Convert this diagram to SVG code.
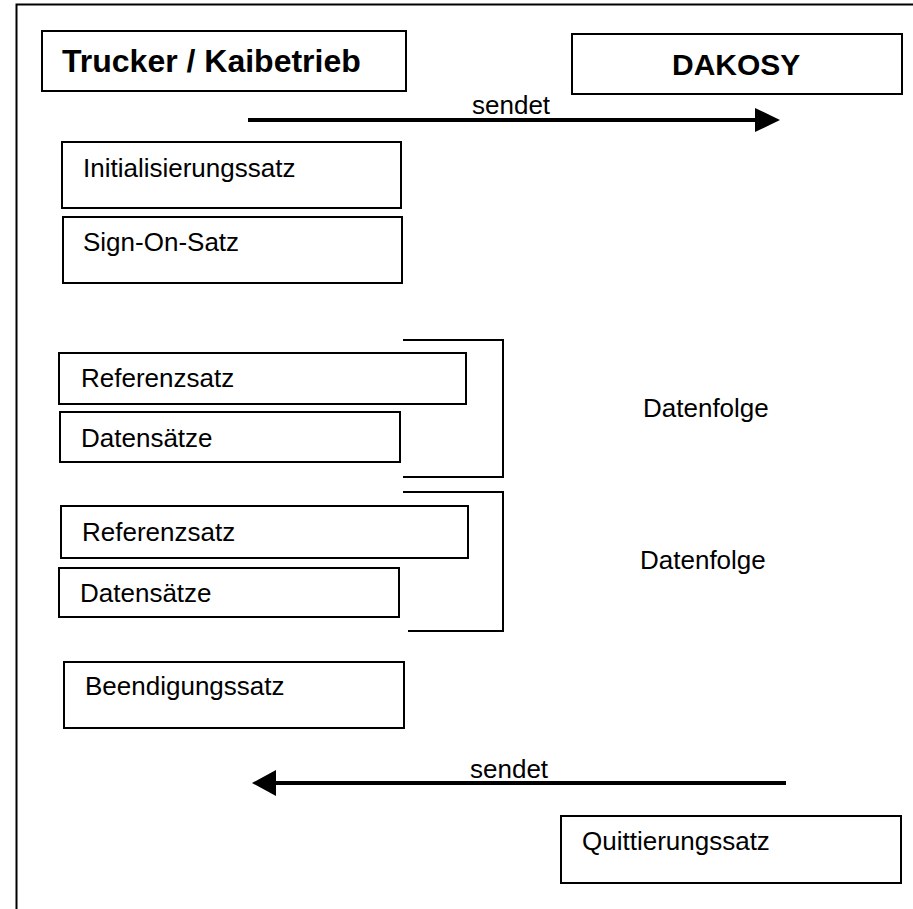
<svg xmlns="http://www.w3.org/2000/svg" width="913" height="909" viewBox="0 0 913 909">
<style>
.box{fill:#fff;stroke:#000;stroke-width:2}
.t{font-family:"Liberation Sans",Arial,sans-serif;font-size:26px;fill:#000}
.b{font-family:"Liberation Sans",Arial,sans-serif;font-weight:bold;fill:#000}
.br{fill:none;stroke:#000;stroke-width:2}
.arr{stroke:#000;stroke-width:4;fill:none}
</style>
<rect width="913" height="909" fill="#fff"/>
<g id="frame"><path d="M16.5,909 V4.5 H913" fill="none" stroke="#000" stroke-width="2"/></g>
<g id="trucker"><rect class="box" x="42" y="31" width="364" height="60"/><text class="b" x="62" y="72" font-size="32">Trucker / Kaibetrieb</text></g>
<g id="dakosy"><rect class="box" x="572" y="34" width="330" height="60"/><text class="b" x="672" y="75" font-size="30">DAKOSY</text></g>
<g id="init"><rect class="box" x="62" y="142" width="339" height="66"/><text class="t" x="83" y="177">Initialisierungssatz</text></g>
<g id="signon"><rect class="box" x="63" y="217" width="339" height="66"/><text class="t" x="83" y="251">Sign-On-Satz</text></g>
<g id="ref1"><rect class="box" x="59" y="353" width="407" height="51"/><text class="t" x="81" y="387">Referenzsatz</text></g>
<g id="daten1"><rect class="box" x="60" y="412" width="340" height="50"/><text class="t" x="81" y="447">Datensätze</text></g>
<g id="folge1"><path class="br" d="M403,340 H503 V477 H403"/><text class="t" x="643" y="417">Datenfolge</text></g>
<g id="ref2"><rect class="box" x="61" y="506" width="407" height="52"/><text class="t" x="82" y="541">Referenzsatz</text></g>
<g id="daten2"><rect class="box" x="59" y="568" width="340" height="49"/><text class="t" x="80" y="602">Datensätze</text></g>
<g id="folge2"><path class="br" d="M403,492 H503 V631 H408"/><text class="t" x="640" y="569">Datenfolge</text></g>
<g id="ende"><rect class="box" x="64" y="662" width="340" height="66"/><text class="t" x="85" y="695">Beendigungssatz</text></g>
<g id="quitt"><rect class="box" x="561" y="816" width="340" height="67"/><text class="t" x="582" y="850">Quittierungssatz</text></g>
<g id="connectors">
<line class="arr" x1="248" y1="120" x2="756" y2="120"/>
<polygon points="755,108 780,120 755,132" fill="#000"/>
<text class="t" x="472" y="114" font-size="25">sendet</text>
<line class="arr" x1="275" y1="783" x2="786" y2="783"/>
<polygon points="276,770 252,783 276,796" fill="#000"/>
<text class="t" x="470" y="778" font-size="25">sendet</text>
</g>
</svg>
